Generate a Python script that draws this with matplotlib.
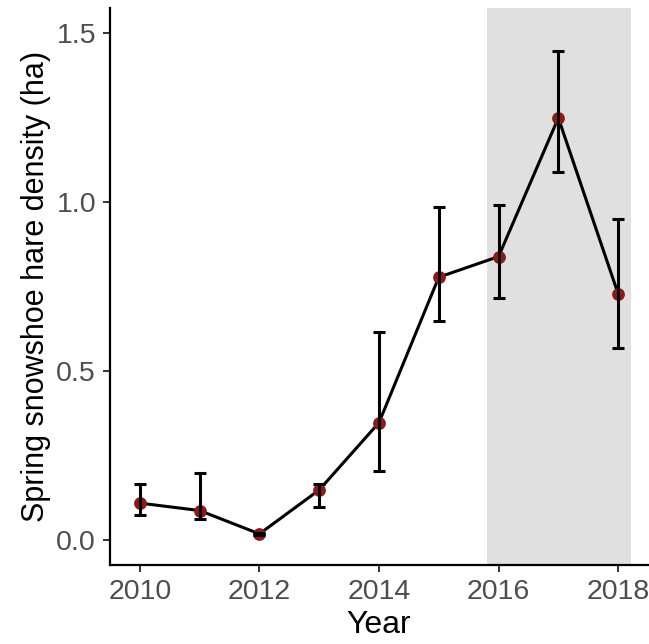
import numpy as np
import matplotlib.pyplot as plt

plt.rcParams['font.family'] = ['Liberation Sans', 'DejaVu Sans']

years = [2010, 2011, 2012, 2013, 2014, 2015, 2016, 2017, 2018]
density = [0.109, 0.087, 0.018, 0.148, 0.347, 0.777, 0.838, 1.248, 0.728]
lower = [0.073, 0.062, 0.014, 0.097, 0.204, 0.648, 0.715, 1.089, 0.569]
upper = [0.166, 0.197, 0.022, 0.165, 0.615, 0.984, 0.991, 1.445, 0.948]

# shaded period
shade_start, shade_end = 2015.8, 2018.22

fig = plt.figure(figsize=(6.49, 6.44), dpi=100)
ax = fig.add_axes([110 / 649, 1 - 565 / 644, 538 / 649, 557 / 644])

ax.axvspan(shade_start, shade_end, color='#e0e0e0', lw=0, zorder=0)

d = np.array(density)
yerr = [d - np.array(lower), np.array(upper) - d]

ax.plot(years, density, color='black', lw=2.2, zorder=2)
ax.scatter(years, density, s=85, color='#8b1a1a', zorder=3, lw=0)
ax.errorbar(years, density, yerr=yerr, fmt='none', ecolor='black',
            elinewidth=2.2, capsize=4, capthick=2.2, zorder=4)

ax.set_xlim(2009.5, 2018.5)
ax.set_ylim(-0.074, 1.573)
ax.set_xticks([2010, 2012, 2014, 2016, 2018])
ax.set_yticks([0.0, 0.5, 1.0, 1.5])
ax.set_yticklabels(['0.0', '0.5', '1.0', '1.5'])

for side in ['top', 'right']:
    ax.spines[side].set_visible(False)
for side in ['left', 'bottom']:
    ax.spines[side].set_linewidth(1.6)
    ax.spines[side].set_color('black')

ax.tick_params(axis='both', labelsize=20.5, labelcolor='#4d4d4d',
               color='#333333', length=5, width=1.4, pad=5)

ax.set_xlabel('Year', fontsize=23, labelpad=4)
ax.set_ylabel('Spring snowshoe hare density (ha)', fontsize=22, labelpad=4)

fig.savefig('out.png', dpi=100)
